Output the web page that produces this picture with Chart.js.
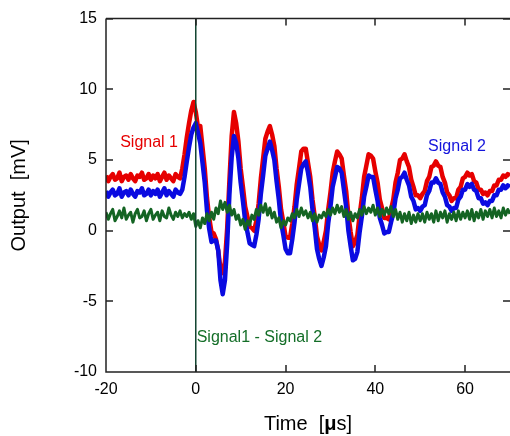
<!DOCTYPE html>
<html>
<head>
<meta charset="utf-8">
<script src="https://cdn.jsdelivr.net/npm/chart.js@4.4.1/dist/chart.umd.min.js"></script>
<style>
  html, body { margin: 0; padding: 0; background: #fff; }
  canvas { display: block; }
</style>
</head>
<body>
<canvas id="scope" width="510" height="436"></canvas>
<script>
// sampling grid of the scope traces (µs)
const tStart = -20;
const tStep = 0.5;

// Signal 1 (mV), one row per 10 µs
const signal1 = [
  3.9, 3.5, 3.8, 4.0, 3.6, 3.7, 4.1, 3.5, 3.8, 3.9, 3.6, 4.0, 3.7, 3.5, 3.9, 3.8, 4.1, 3.6, 3.7, 4.0,
  3.6, 3.9, 3.7, 4.0, 3.5, 3.8, 4.1, 3.6, 3.9, 3.7, 3.5, 4.0, 3.8, 3.7, 4.4, 5.4, 6.6, 7.6, 8.5, 9.1,
  8.4, 7.3, 7.4, 5.9, 4.4, 2.3, 0.9, -0.1, -0.2, -0.6, -1.4, -2.7, -3.0, -2.2, 0.2, 3.6, 6.7, 8.4, 7.6, 6.3,
  4.4, 3.1, 1.7, 1.0, 0.3, 0.2, 0.0, 0.7, 1.9, 3.7, 5.1, 6.5, 7.0, 7.4, 6.8, 6.0, 4.4, 3.1, 1.5, 0.6,
  -0.4, -0.5, -0.5, 0.5, 1.7, 3.3, 4.4, 5.6, 5.8, 5.8, 4.8, 3.8, 2.2, 1.0, -0.4, -1.0, -1.4, -0.8, 0.0, 1.5,
  2.7, 4.1, 4.9, 5.6, 5.4, 5.1, 3.9, 2.8, 1.1, -0.1, -1.1, -0.8, -0.3, 1.1, 2.3, 3.8, 4.6, 5.4, 5.3, 5.1,
  4.2, 3.4, 2.2, 1.6, 0.9, 0.9, 0.8, 1.5, 2.2, 3.4, 4.1, 5.0, 5.1, 5.4, 4.9, 4.5, 3.6, 3.1, 2.5, 2.5,
  2.3, 2.6, 2.8, 3.5, 3.8, 4.5, 4.6, 4.9, 4.6, 4.5, 3.8, 3.4, 2.7, 2.5, 2.1, 2.3, 2.3, 2.9, 3.1, 3.7,
  3.8, 4.1, 3.9, 4.0, 3.5, 3.4, 2.9, 2.9, 2.6, 2.7, 2.5, 2.8, 2.8, 3.2, 3.2, 3.6, 3.6, 3.9, 3.8, 4.0,
  3.9
];

// Signal 2 (mV)
const signal2 = [
  2.8, 2.4, 2.7, 2.9, 2.5, 2.6, 3.0, 2.4, 2.7, 2.8, 2.5, 2.9, 2.6, 2.4, 2.8, 2.7, 3.0, 2.5, 2.6, 2.9,
  2.5, 2.8, 2.6, 2.9, 2.4, 2.7, 3.0, 2.5, 2.8, 2.6, 2.4, 2.9, 2.7, 2.6, 2.9, 3.8, 4.9, 5.9, 6.8, 7.3,
  7.6, 6.9, 6.2, 4.8, 3.4, 1.4, 0.1, -0.8, -0.7, -0.7, -1.4, -3.5, -4.5, -3.5, -0.9, 2.6, 5.2, 6.7, 6.2, 5.1,
  3.4, 2.1, 0.7, -0.1, -0.9, -1.0, -1.1, -0.3, 0.8, 2.6, 3.9, 5.3, 5.8, 6.3, 5.7, 5.0, 3.5, 2.2, 0.6, -0.3,
  -1.3, -1.6, -1.6, -0.6, 0.6, 2.2, 3.3, 4.4, 4.7, 4.9, 4.1, 3.1, 1.5, 0.2, -1.3, -2.0, -2.5, -1.9, -1.1, 0.5,
  1.7, 3.1, 3.8, 4.5, 4.4, 4.1, 2.9, 1.7, 0.0, -1.1, -2.1, -2.0, -1.5, -0.1, 1.0, 2.4, 3.1, 3.9, 3.8, 3.8,
  2.9, 2.1, 0.9, 0.4, -0.2, -0.1, -0.1, 0.6, 1.2, 2.3, 2.9, 3.7, 3.8, 4.1, 3.6, 3.2, 2.4, 2.1, 1.5, 1.6,
  1.4, 1.7, 1.8, 2.5, 2.8, 3.4, 3.4, 3.7, 3.4, 3.3, 2.7, 2.4, 1.8, 1.7, 1.4, 1.6, 1.6, 2.2, 2.4, 2.9,
  2.9, 3.3, 3.1, 3.3, 2.9, 2.8, 2.3, 2.3, 1.9, 2.0, 1.8, 2.1, 2.1, 2.5, 2.5, 2.9, 2.9, 3.2, 3.0, 3.2,
  3.1
];

// Signal1 - Signal 2 (mV)
const difference = [
  1.3, 0.8, 1.2, 1.5, 0.7, 1.0, 1.4, 0.9, 1.6, 0.8, 1.1, 1.3, 0.6, 1.2, 1.5, 0.9, 1.0, 1.4, 0.7, 1.2,
  1.5, 0.8, 1.1, 1.3, 0.7, 1.4, 1.0, 0.9, 1.6, 1.1, 0.8, 1.3, 1.0, 1.4, 0.9, 1.2, 1.0, 1.3, 0.8, 1.2,
  0.3, 0.7, 0.2, 0.9, 0.5, 1.2, 0.7, 1.3, 0.8, 1.6, 1.2, 2.1, 1.5, 2.0, 1.3, 1.8, 1.1, 1.5, 0.8, 1.1,
  0.4, 0.8, 0.1, 0.7, 0.4, 1.1, 0.8, 1.5, 1.1, 1.8, 1.3, 1.9, 1.1, 1.6, 0.9, 1.3, 0.6, 0.9, 0.2, 0.7,
  0.4, 0.9, 0.7, 1.2, 0.9, 1.5, 1.0, 1.6, 1.1, 1.4, 0.9, 1.3, 0.7, 1.2, 0.6, 1.1, 0.9, 1.3, 1.0, 1.5,
  1.1, 1.6, 1.2, 1.8, 1.3, 1.7, 1.0, 1.5, 0.8, 1.3, 0.7, 1.2, 0.9, 1.5, 1.1, 1.7, 1.2, 1.6, 1.3, 1.8,
  1.1, 1.6, 1.0, 1.5, 1.1, 1.6, 1.2, 1.7, 1.0, 1.5, 0.8, 1.3, 0.6, 1.2, 0.7, 1.3, 0.5, 1.1, 0.6, 1.2,
  0.7, 1.2, 0.6, 1.3, 0.8, 1.2, 0.6, 1.4, 0.7, 1.3, 0.9, 1.4, 0.6, 1.2, 0.8, 1.3, 0.7, 1.4, 0.8, 1.3,
  0.9, 1.4, 0.8, 1.5, 0.7, 1.3, 0.9, 1.5, 0.8, 1.4, 1.0, 1.5, 0.9, 1.6, 1.0, 1.4, 0.9, 1.6, 1.1, 1.5,
  1.2
];

// trigger spike at t = 0, runs off both ends of the screen
const triggerTime = [0, 0];
const triggerLevel = [15, -10];

const xTicks = [-20, 0, 20, 40, 60];
const yTicks = [-10, -5, 0, 5, 10, 15];

const notes = [
  { text: 'Signal 1', t: -10.4, v: 6.25, align: 'center', color: 'rgb(230,0,0)' },
  { text: 'Signal 2', t: 58.2, v: 5.95, align: 'center', color: 'rgb(20,20,220)' },
  { text: 'Signal1 - Signal 2', t: 0.2, v: -7.6, align: 'left', color: 'rgb(20,110,40)' }
];

const fontFamily = '"Liberation Sans", Arial, sans-serif';
const timeUs = signal1.map((_, i) => tStart + i * tStep);
const toPoints = (ys) => ys.map((y, i) => ({ x: timeUs[i], y: y }));

const framePlugin = {
    id: 'frame',
    afterDatasetsDraw(chart) {
        const ctx = chart.ctx;
        const a = chart.chartArea;
        const xs = chart.scales.x;
        const ys = chart.scales.y;
        ctx.save();

        // axes and inward tick marks
        ctx.strokeStyle = '#222';
        ctx.lineWidth = 1.5;
        ctx.beginPath();
        ctx.moveTo(a.left, a.top);
        ctx.lineTo(a.left, a.bottom);
        ctx.lineTo(a.right, a.bottom);
        ctx.moveTo(a.left, a.top);
        ctx.lineTo(a.right, a.top);
        xTicks.forEach(v => {
            const px = Math.round(xs.getPixelForValue(v));
            ctx.moveTo(px, a.bottom);
            ctx.lineTo(px, a.bottom - 7);
            ctx.moveTo(px, a.top);
            ctx.lineTo(px, a.top + 7);
        });
        yTicks.forEach(v => {
            const py = Math.round(ys.getPixelForValue(v));
            ctx.moveTo(a.left, py);
            ctx.lineTo(a.left + 7, py);
            ctx.moveTo(a.right, py);
            ctx.lineTo(a.right - 7, py);
        });
        ctx.stroke();

        // trace labels
        ctx.font = '16px ' + fontFamily;
        ctx.textBaseline = 'middle';
        notes.forEach(n => {
            ctx.fillStyle = n.color;
            ctx.textAlign = n.align;
            ctx.fillText(n.text, xs.getPixelForValue(n.t), ys.getPixelForValue(n.v));
        });

        // axis titles
        ctx.fillStyle = '#000';
        ctx.font = '20px ' + fontFamily;
        ctx.save();
        ctx.translate(19, (a.top + a.bottom) / 2);
        ctx.rotate(-Math.PI / 2);
        ctx.textAlign = 'center';
        ctx.fillText('Output  [mV]', 0, 0);
        ctx.restore();

        const parts = [
            { s: 'Time  [', f: '20px ' + fontFamily },
            { s: 'μ', f: 'bold 20px ' + fontFamily },
            { s: 's]', f: '20px ' + fontFamily }
        ];
        let total = 0;
        parts.forEach(p => { ctx.font = p.f; p.w = ctx.measureText(p.s).width; total += p.w; });
        let x0 = (a.left + a.right) / 2 - total / 2;
        ctx.textAlign = 'left';
        parts.forEach(p => {
            ctx.font = p.f;
            ctx.fillText(p.s, x0, 424);
            x0 += p.w;
        });
        ctx.restore();
    }
};

new Chart(document.getElementById('scope'), {
    type: 'line',
    data: {
        datasets: [
            {
                label: 'Signal 1',
                data: toPoints(signal1),
                borderColor: 'rgb(230,0,0)',
                borderWidth: 4.5,
                order: 3
            },
            {
                label: 'Signal 2',
                data: toPoints(signal2),
                borderColor: 'rgb(10,10,225)',
                borderWidth: 4.5,
                order: 2
            },
            {
                label: 'Signal1 - Signal 2',
                data: toPoints(difference),
                borderColor: 'rgb(20,100,35)',
                borderWidth: 3,
                order: 1
            },
            {
                label: 'trigger',
                data: triggerTime.map((t, i) => ({ x: t, y: triggerLevel[i] })),
                borderColor: 'rgb(20,70,50)',
                borderWidth: 1.5,
                order: 0
            }
        ]
    },
    options: {
        responsive: false,
        animation: false,
        devicePixelRatio: 1,
        layout: { padding: { top: 12, right: 0, left: 0, bottom: 0 } },
        elements: {
            point: { radius: 0 },
            line: { tension: 0, borderJoinStyle: 'round' }
        },
        plugins: {
            legend: { display: false },
            tooltip: { enabled: false }
        },
        scales: {
            x: {
                type: 'linear',
                min: -20,
                max: 70,
                grid: { display: false, drawTicks: false },
                border: { display: false },
                afterBuildTicks: s => { s.ticks = xTicks.map(v => ({ value: v })); },
                afterFit: s => { s.height = 64; },
                ticks: {
                    color: '#000',
                    padding: 8,
                    maxRotation: 0,
                    font: { size: 16, family: fontFamily }
                }
            },
            y: {
                min: -10,
                max: 15,
                grid: { display: false, drawTicks: false },
                border: { display: false },
                afterBuildTicks: s => { s.ticks = yTicks.map(v => ({ value: v })); },
                afterFit: s => { s.width = 106; },
                ticks: {
                    color: '#000',
                    padding: 9,
                    font: { size: 16, family: fontFamily }
                }
            }
        }
    },
    plugins: [framePlugin]
});
</script>
</body>
</html>
